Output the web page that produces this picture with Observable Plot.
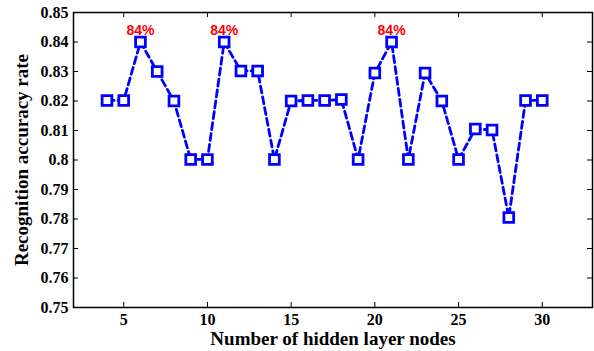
<!DOCTYPE html>
<html><head><meta charset="utf-8">
<script src="https://cdn.jsdelivr.net/npm/d3@7"></script>
<script src="https://cdn.jsdelivr.net/npm/@observablehq/plot@0.6"></script>
<style>body{margin:0;background:#fff}</style>
</head><body><div id="chart"></div>
<script>
const nodes = [4,5,6,7,8,9,10,11,12,13,14,15,16,17,18,19,20,21,22,23,24,25,26,27,28,29,30];
const accuracy = [0.8202,0.8202,0.84,0.83,0.82,0.8002,0.8002,0.84,0.8302,0.8302,0.8002,0.82,0.8202,0.8202,0.8205,0.8002,0.8295,0.84,0.8002,0.8295,0.82,0.8002,0.8105,0.8102,0.7805,0.8202,0.8202];
const peakNodes = [6,11,21];
const peakLabel = "84%";
const xTicks = [5,10,15,20,25,30];
const yTicks = [0.75,0.76,0.77,0.78,0.79,0.80,0.81,0.82,0.83,0.84,0.85];
const yTickLabels = ["0.75","0.76","0.77","0.78","0.79","0.8","0.81","0.82","0.83","0.84","0.85"];

const data = nodes.map((n,i)=>({n, a: accuracy[i]}));
const peaks = data.filter(d=>peakNodes.includes(d.n));
const serif = "'Liberation Serif','Times New Roman',serif";
const W = 594, H = 351, ML = 73, MT = 12, MR = 2, MB = 44;
const pw = W - ML - MR, ph = H - MT - MB, tk = 5;

const chart = Plot.plot({
  width: W, height: H,
  marginLeft: ML, marginTop: MT, marginRight: MR, marginBottom: MB,
  style: {fontFamily: serif, fontWeight: "bold", fontSize: "16px", color: "#000", background: "#fff"},
  x: {domain: [2, 33]},
  y: {domain: [0.75, 0.85]},
  marks: [
    Plot.ruleX(xTicks, {x: d=>d, insetTop: ph - tk, stroke: "#000", strokeWidth: 1}),
    Plot.ruleX(xTicks, {x: d=>d, insetBottom: ph - tk, stroke: "#000", strokeWidth: 1}),
    Plot.ruleY(yTicks, {y: d=>d, insetRight: pw - tk, stroke: "#000", strokeWidth: 1}),
    Plot.ruleY(yTicks, {y: d=>d, insetLeft: pw - tk, stroke: "#000", strokeWidth: 1}),
    Plot.frame({stroke: "#000", strokeWidth: 1.5}),
    Plot.axisX({anchor: "bottom", ticks: xTicks, tickSize: 0, tickPadding: 6, label: null, tickFormat: d=>String(d), fontSize: 16, fontFamily: serif, fontWeight: "bold"}),
    Plot.axisY({anchor: "left", ticks: yTicks, tickSize: 0, tickPadding: 5, label: null, tickFormat: (d)=>yTickLabels[yTicks.findIndex(t=>Math.abs(t-d)<1e-9)], fontSize: 16, fontFamily: serif, fontWeight: "bold"}),
    Plot.line(data, {x: "n", y: "a", stroke: "#0000ff", strokeWidth: 2.8, strokeDasharray: "7,4"}),
    Plot.dot(data, {x: "n", y: "a", symbol: "square", r: 5.5, stroke: "#0000ff", strokeWidth: 2.8, fill: "#fff"}),
    Plot.text(peaks, {x: "n", y: "a", text: ()=>peakLabel, dy: -11, fill: "#ff0000", fontFamily: "'Liberation Sans',Arial,sans-serif", fontWeight: "bold", fontSize: 14}),
    Plot.text(["Number of hidden layer nodes"], {frameAnchor: "bottom", dy: 37, text: d=>d, fontSize: 19, fontWeight: "bold", fontFamily: serif}),
    Plot.text(["Recognition accuracy rate"], {frameAnchor: "left", textAnchor: "middle", dx: -52, rotate: -90, text: d=>d, fontSize: 19, fontWeight: "bold", fontFamily: serif})
  ]
});
document.getElementById("chart").append(chart);
</script></body></html>
